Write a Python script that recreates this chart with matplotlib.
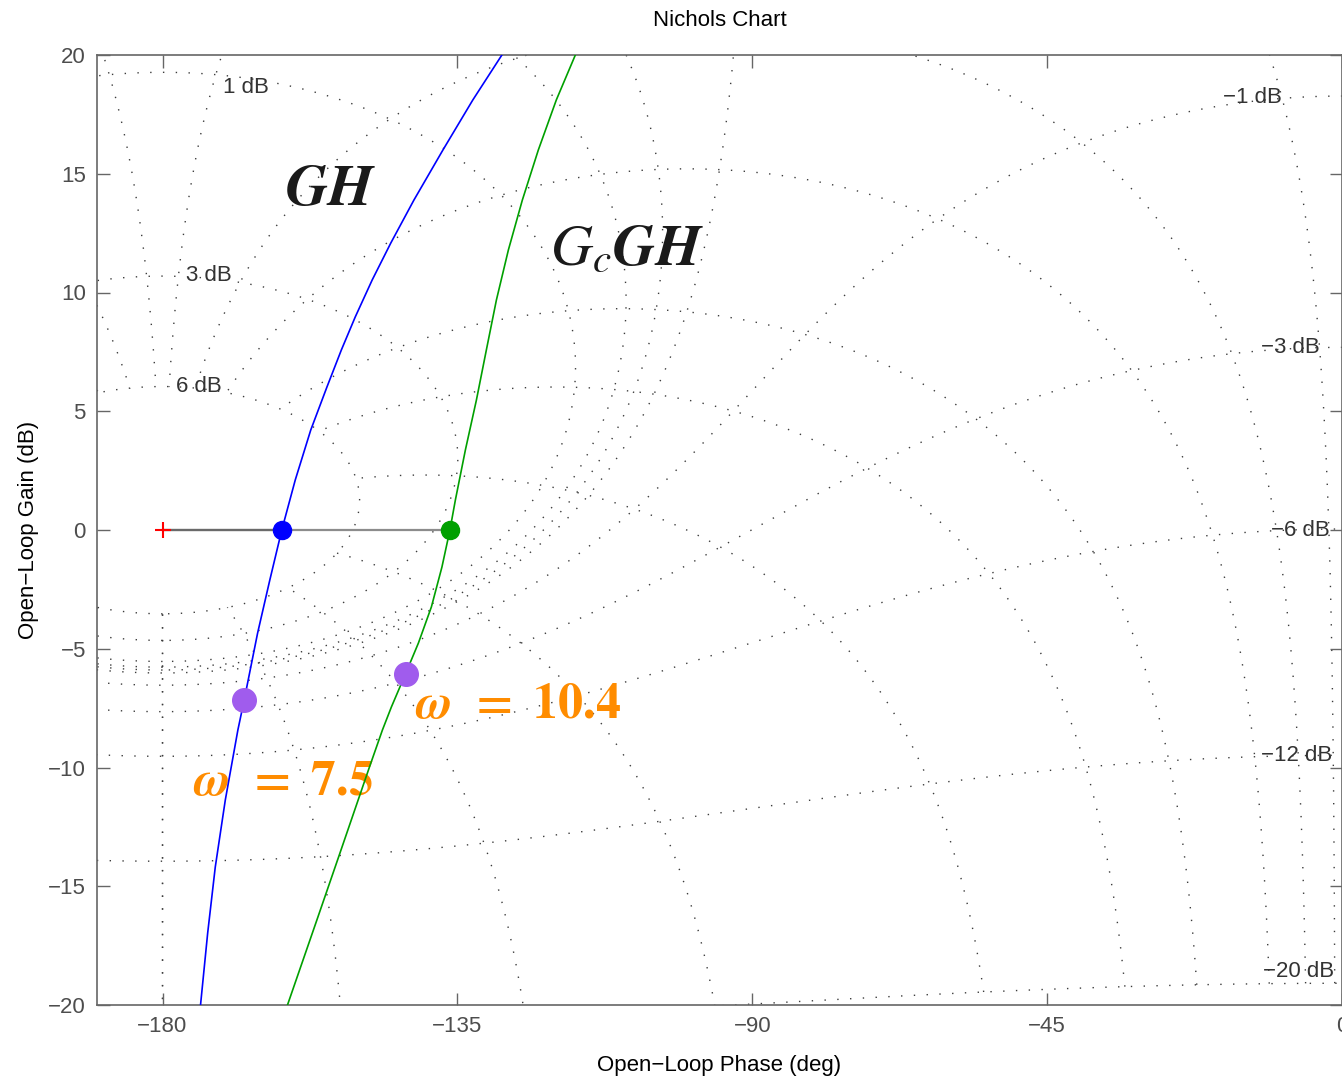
import numpy as np
import matplotlib.pyplot as plt

plt.rcParams['font.family'] = ['Liberation Sans', 'DejaVu Sans']
plt.rcParams['mathtext.fontset'] = 'stix'

# closed-loop grid levels (dB / deg)
cl_gain_db = [6, 3, 1, 0.5, 0.25, 0, -1, -3, -6, -12, -20]
cl_phase_deg = [-1, -5, -10, -20, -30, -50, -90, -120, -150, -180]
grid_labels = ['1 dB', '3 dB', '6 dB', '\u22121 dB', '\u22123 dB', '\u22126 dB', '\u221212 dB', '\u221220 dB']
label_phase = [-167.3, -173.0, -174.5, -13.7, -7.9, -6.4, -6.9, -6.7]
label_gain = [18.65, 10.7, 6.06, 18.2, 7.7, 0.0, -9.5, -18.6]

# open-loop curves
gh_phase = [-174.20, -173.11, -171.95, -170.42, -168.50, -167.54, -165.49, -163.63, -161.80, -159.74,
            -157.38, -154.91, -152.71, -150.59, -148.00, -145.17, -141.64, -137.21, -132.64, -128.21]
gh_gain = [-20.0, -16.97, -14.19, -11.37, -8.42, -7.16, -4.34, -2.11, 0.0, 2.11,
           4.21, 6.02, 7.58, 8.97, 10.53, 12.08, 13.89, 16.0, 18.11, 20.0]
gcgh_phase = [-160.93, -156.28, -152.92, -148.42, -146.44, -145.07, -142.86, -140.95, -138.97, -137.36, -136.14,
              -135.31, -133.78, -132.10, -130.58, -129.05, -127.22, -125.09, -122.65, -119.90, -117.00]
gcgh_gain = [-20.0, -16.29, -13.6, -9.98, -8.42, -7.45, -6.02, -4.76, -3.24, -1.56, 0.0,
             1.26, 3.37, 5.47, 7.58, 9.68, 11.79, 13.89, 16.0, 18.11, 20.0]

crit = (-180, 0)
gh_cross = (-161.8, 0)
gcgh_cross = (-136.14, 0)
gh_w = (-167.54, -7.16)
gcgh_w = (-142.8, -6.06)

fig = plt.figure(figsize=(13.42, 10.78), dpi=100)
ax = fig.add_axes([97/1342, 73/1078, 1245/1342, 950/1078])

dot = dict(color='#3c3c3c', lw=1.0, ls=(0, (1, 8.2)), zorder=1)

# magnitude contours
for mdb in cl_gain_db:
    M = 10**(mdb/20)
    if mdb == 0:
        ph = np.linspace(-269.9, -90.1, 3000)
        g = 20*np.log10(0.5/np.abs(np.cos(np.radians(ph))))
    else:
        c = -M**2/(M**2 - 1)
        r = M/abs(M**2 - 1)
        t = np.linspace(0, 2*np.pi, 4000)
        L = c + r*np.exp(1j*t)
        ph = np.mod(np.degrees(np.angle(L)), 360) - 360
        g = 20*np.log10(np.abs(L))
        if M < 1:
            idx = np.argsort(ph)
            ph, g = ph[idx], g[idx]
    ax.plot(ph, g, **dot)

# phase contours, from -20 dB up to the 6 dB contour
Ms = np.logspace(-1, np.log10(2), 3000)
for p in cl_phase_deg:
    T = Ms*np.exp(1j*np.radians(p))
    L = T/(1 - T)
    ph = np.mod(np.degrees(np.angle(L)), 360) - 360
    g = 20*np.log10(np.abs(L))
    ax.plot(ph, g, **dot)
    ax.plot(-360 - ph, g, **dot)

for s, x, y in zip(grid_labels, label_phase, label_gain):
    ax.text(x, y, s, fontsize=16, color='#333333', ha='center', va='center', zorder=2)

# open-loop responses
ax.plot([crit[0], gcgh_cross[0]], [0, 0], color='#8c8c8c', lw=1.6, zorder=3)
ax.plot([crit[0], gh_cross[0]], [0, 0], color='#6a6a6a', lw=1.6, zorder=3)
ax.plot(gh_phase, gh_gain, color='#0000ff', lw=1.2, zorder=4)
ax.plot(gcgh_phase, gcgh_gain, color='#00a000', lw=1.2, zorder=4)
ax.plot(*crit, marker='+', color='red', ms=12, mew=1.5, zorder=5)
ax.plot(*gh_cross, 'o', color='#0000ff', ms=13, zorder=5)
ax.plot(*gcgh_cross, 'o', color='#00a000', ms=13, zorder=5)
ax.plot(*gh_w, 'o', color='#a05ced', ms=17, zorder=5)
ax.plot(*gcgh_w, 'o', color='#a05ced', ms=17, zorder=5)

ax.text(-154.4, 14.3, r'$\boldsymbol{GH}$', fontsize=42, color='#1a1a1a', ha='center', va='center')
ax.text(-109.1, 11.8, r'$\boldsymbol{G_cGH}$', fontsize=42, color='#1a1a1a', ha='center', va='center')
ax.text(-161.5, -10.6, r'$\boldsymbol{\omega}\;\,\boldsymbol{=}\;\,\boldsymbol{7.5}$', fontsize=36,
        color='#ff8c00', ha='center', va='center')
ax.text(-125.7, -7.37, r'$\boldsymbol{\omega}\;\,\boldsymbol{=}\;\,\boldsymbol{10.4}$', fontsize=36,
        color='#ff8c00', ha='center', va='center')

ax.set_xlim(-190, 0)
ax.set_ylim(-20, 20)
ax.set_xticks([-180, -135, -90, -45, 0])
ax.set_yticks([-20, -15, -10, -5, 0, 5, 10, 15, 20])
ax.tick_params(direction='in', length=9, width=1, colors='#666666', labelcolor='#4d4d4d',
               labelsize=16, top=True, right=True, pad=8)
for sp in ax.spines.values():
    sp.set_color('#666666')
    sp.set_linewidth(1.2)

ax.set_title('Nichols Chart', fontsize=16, pad=21)
ax.set_xlabel('Open\u2212Loop Phase (deg)', fontsize=16, labelpad=13)
ax.set_ylabel('Open\u2212Loop Gain (dB)', fontsize=16, labelpad=6.5)

fig.savefig('out.png', dpi=100)
